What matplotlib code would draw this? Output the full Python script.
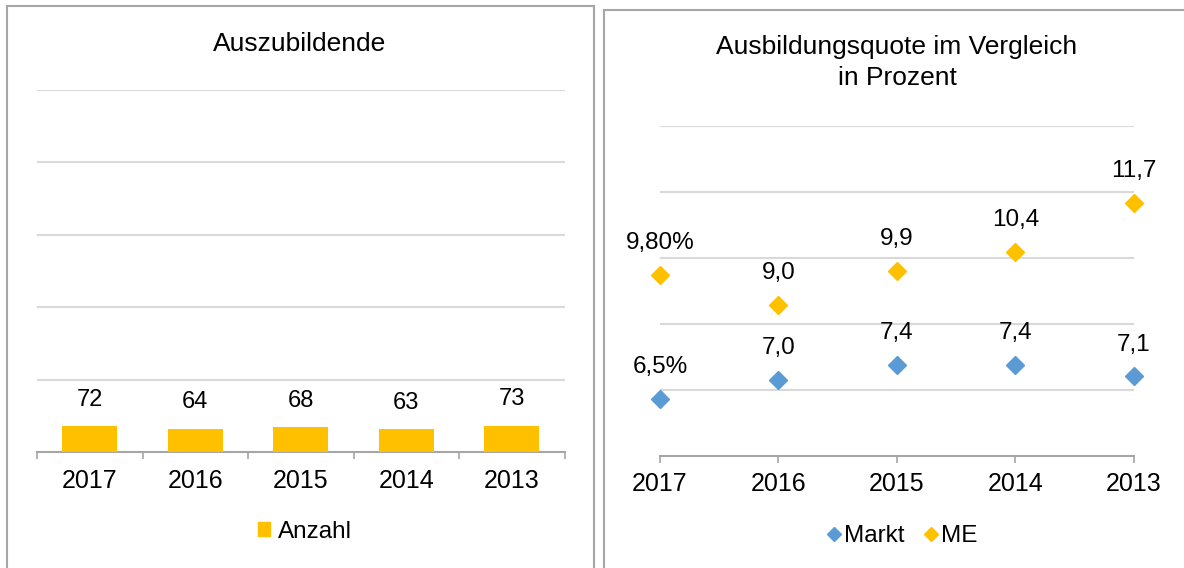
import numpy as np
import matplotlib
matplotlib.use("Agg")
import matplotlib.pyplot as plt
from matplotlib.patches import Rectangle
from matplotlib.lines import Line2D

# data
years = ['2017', '2016', '2015', '2014', '2013']
anzahl = [72, 64, 68, 63, 73]
markt = [6.5, 7.0, 7.4, 7.4, 7.1]
me = [9.8, 9.0, 9.9, 10.4, 11.7]
markt_labels = ['6,5%', '7,0', '7,4', '7,4', '7,1']
me_labels = ['9,80%', '9,0', '9,9', '10,4', '11,7']

orange = '#FFC000'
blue = '#5B9BD5'
grid_col = '#D9D9D9'
axis_col = '#A6A6A6'

plt.rcParams['font.family'] = ['Liberation Sans', 'DejaVu Sans']

W, H = 1184, 568
fig = plt.figure(figsize=(W / 100, H / 100), dpi=100)

def fx(px):
    return px / W

def fy(py):
    return 1 - py / H

# panel borders
fig.patches.append(Rectangle((fx(7), fy(580)), fx(594) - fx(7), fy(6) - fy(580),
                             transform=fig.transFigure, fill=False,
                             edgecolor=axis_col, linewidth=1.5))
fig.patches.append(Rectangle((fx(604), fy(580)), fx(1200) - fx(604), fy(10) - fy(580),
                             transform=fig.transFigure, fill=False,
                             edgecolor=axis_col, linewidth=1.5))

# ---- left: Auszubildende ----
ax1 = fig.add_axes([fx(37), fy(452), fx(564.5) - fx(37), fy(90) - fy(452)])
x = np.arange(len(years))
ax1.bar(x, anzahl, width=0.52, color=orange, zorder=3)
ax1.set_xlim(-0.5, len(years) - 0.5)
ax1.set_ylim(0, 1000)
ax1.set_yticks(np.arange(200, 1001, 200))
ax1.yaxis.grid(True, color=grid_col, linewidth=1.5)
ax1.tick_params(axis='y', length=0, labelleft=False)
for s in ['top', 'right', 'left']:
    ax1.spines[s].set_visible(False)
ax1.spines['bottom'].set_color(axis_col)
ax1.spines['bottom'].set_linewidth(1.5)
ax1.set_xticks(np.arange(len(years) + 1) - 0.5)
ax1.set_xticklabels([])
ax1.tick_params(axis='x', which='major', length=5, color=axis_col, width=1.2)
ax1.set_xticks(x, minor=True)
ax1.set_xticklabels(years, minor=True, fontsize=18)
ax1.tick_params(axis='x', which='minor', length=0, pad=12)
for xi, v in zip(x, anzahl):
    ax1.annotate(str(v), (xi, v), xytext=(0, 19), textcoords='offset points',
                 ha='center', va='center', fontsize=17)
fig.text(fx(300), fy(44), 'Auszubildende', ha='center', va='center', fontsize=19)
ax1.legend([Rectangle((0, 0), 1, 1, color=orange)], ['Anzahl'], loc='center',
           bbox_to_anchor=(fx(305), fy(532)), bbox_transform=fig.transFigure,
           frameon=False, fontsize=17.5, handlelength=0.5, handleheight=0.5,
           handletextpad=0.3)

# ---- right: Ausbildungsquote ----
ax2 = fig.add_axes([fx(660), fy(455.7), fx(1133.7) - fx(660), fy(125.7) - fy(455.7)])
ax2.plot(x, markt, 'D', color=blue, markersize=9, clip_on=False, zorder=3)
ax2.plot(x, me, 'D', color=orange, markersize=9, clip_on=False, zorder=3)
ax2.set_xlim(0, len(years) - 1)
ax2.set_ylim(5, 13.75)
ax2.set_yticks(np.arange(5 + 1.75, 13.76, 1.75))
ax2.yaxis.grid(True, color=grid_col, linewidth=1.5)
ax2.tick_params(axis='y', length=0, labelleft=False)
for s in ['top', 'right', 'left']:
    ax2.spines[s].set_visible(False)
ax2.spines['bottom'].set_color(axis_col)
ax2.spines['bottom'].set_linewidth(1.5)
ax2.set_xticks(x)
ax2.set_xticklabels(years, fontsize=18)
ax2.tick_params(axis='x', length=5, color=axis_col, width=1.2, pad=7)
for xi, v, lab in zip(x, markt, markt_labels):
    ax2.annotate(lab, (xi, v), xytext=(0, 23), textcoords='offset points',
                 ha='center', va='center', fontsize=17.5)
for xi, v, lab in zip(x, me, me_labels):
    ax2.annotate(lab, (xi, v), xytext=(0, 23), textcoords='offset points',
                 ha='center', va='center', fontsize=17.5)
fig.text(fx(897), fy(62.5), 'Ausbildungsquote im Vergleich\nin Prozent',
         ha='center', va='center', fontsize=19, linespacing=1.35)
handles = [Line2D([], [], marker='D', linestyle='none', color=blue, markersize=7),
           Line2D([], [], marker='D', linestyle='none', color=orange, markersize=7)]
ax2.legend(handles, ['Markt', 'ME'], loc='center', ncol=2,
           bbox_to_anchor=(fx(902), fy(536)), bbox_transform=fig.transFigure,
           frameon=False, fontsize=17.5, handlelength=0.6, handletextpad=0.1,
           columnspacing=0.8)

fig.savefig('out.png', dpi=100)
